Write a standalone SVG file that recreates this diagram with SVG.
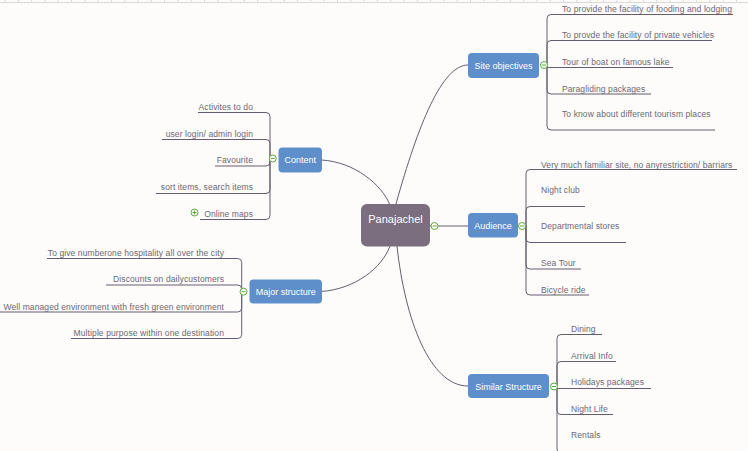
<svg xmlns="http://www.w3.org/2000/svg" width="748" height="451" viewBox="0 0 748 451">
<style>
.bg{fill:#fdfcfa}
.node{fill:#5f8fca}
.center{fill:#7b6e7f}
.nt{font-family:"Liberation Sans",Arial,sans-serif;font-size:9px;fill:#ffffff;text-anchor:middle}
.ct{font-family:"Liberation Sans",Arial,sans-serif;font-size:11px;fill:#ffffff;text-anchor:middle}
.lt{font-family:"Liberation Sans",Arial,sans-serif;font-size:8.5px;letter-spacing:0.1px;fill:#6c6779}
.end{text-anchor:end}
.ln{fill:none;stroke:#675d70;stroke-width:1}
.tog{fill:#ffffff;stroke:#5fa83c;stroke-width:1}
.togl{stroke:#5fa83c;stroke-width:1;fill:none}
</style>
<rect class="bg" x="0" y="0" width="748" height="451"/>
<g id="ruler">
<line x1="0" y1="2.5" x2="748" y2="2.5" stroke="#d9d9d9" stroke-width="1"/>
<line x1="4.5" y1="1.5" x2="748" y2="1.5" stroke="#d9d9d9" stroke-width="3" stroke-dasharray="1 12.3"/>
</g>
<g id="connectors">
<path class="ln" d="M396,204 C418,125 442,65 468,65"/>
<path class="ln" d="M321.5,160 C355,162 382,185 390,205"/>
<path class="ln" d="M321.5,291.5 C355,289 382,268 390,246"/>
<path class="ln" d="M397,246 C405,320 430,386 468,386"/>
<path class="ln" d="M430,226 H468"/>
<path class="ln" d="M547,65 V18.5 Q547,14.5 551,14.5 H733"/>
<path class="ln" d="M547,65 V44.5 Q547,40.5 551,40.5 H712"/>
<path class="ln" d="M544,67.5 H673"/>
<path class="ln" d="M547,65 V90 Q547,94 551,94 H651"/>
<path class="ln" d="M547,65 V126 Q547,130 551,130 H715"/>
<path class="ln" d="M526,226 V173.5 Q526,169.5 530,169.5 H737"/>
<path class="ln" d="M526,226 V210.5 Q526,206.5 530,206.5 H585"/>
<path class="ln" d="M526,226 V238.5 Q526,242.5 530,242.5 H626"/>
<path class="ln" d="M526,226 V265 Q526,269 530,269 H581"/>
<path class="ln" d="M526,226 V291 Q526,295 530,295 H589"/>
<path class="ln" d="M557,386.5 V338.5 Q557,334.5 561,334.5 H602"/>
<path class="ln" d="M557,386.5 V365.5 Q557,361.5 561,361.5 H616"/>
<path class="ln" d="M554,388.5 H651"/>
<path class="ln" d="M557,386.5 V410.5 Q557,414.5 561,414.5 H613"/>
<path class="ln" d="M557,386.5 V449 Q557,453 561,453 H620"/>
<path class="ln" d="M270,158.5 V116.5 Q270,112.5 266,112.5 H198"/>
<path class="ln" d="M270,158.5 V143.5 Q270,139.5 266,139.5 H162"/>
<path class="ln" d="M270,158.5 V162 Q270,166 266,166 H215"/>
<path class="ln" d="M270,158.5 V189.5 Q270,193.5 266,193.5 H156"/>
<path class="ln" d="M270,158.5 V215.5 Q270,219.5 266,219.5 H200"/>
<path class="ln" d="M241.7,291.7 V262.5 Q241.7,258.5 237.7,258.5 H47"/>
<path class="ln" d="M241.7,291.7 V289 Q241.7,285 237.7,285 H106"/>
<path class="ln" d="M241.7,291.7 V308 Q241.7,312 237.7,312 H0"/>
<path class="ln" d="M241.7,291.7 V334.5 Q241.7,338.5 237.7,338.5 H71"/>
</g>
<g id="center">
<rect class="center" x="361" y="204" width="69" height="42.5" rx="6"/>
<text class="ct" x="395.5" y="223">Panajachel</text>
<circle class="tog" cx="434.5" cy="226" r="3.5"/><line class="togl" x1="432.5" y1="226" x2="436.5" y2="226"/>
</g>
<g id="site-objectives">
<rect class="node" x="468" y="53" width="71" height="25" rx="4"/>
<text class="nt" x="503.5" y="68.5">Site objectives</text>
<circle class="tog" cx="544" cy="65" r="3.5"/><line class="togl" x1="542" y1="65" x2="546" y2="65"/>
<text class="lt" x="562" y="11.5">To provide the facility of fooding and lodging</text>
<text class="lt" x="562" y="38">To provde the facility of private vehicles</text>
<text class="lt" x="562" y="65">Tour of boat on famous lake</text>
<text class="lt" x="562" y="91.5">Paragliding packages</text>
<text class="lt" x="562" y="117">To know about different tourism places</text>
</g>
<g id="audience">
<rect class="node" x="468" y="213" width="50" height="24.5" rx="4"/>
<text class="nt" x="493" y="228.5">Audience</text>
<circle class="tog" cx="522" cy="226" r="3.5"/><line class="togl" x1="520" y1="226" x2="524" y2="226"/>
<text class="lt" x="541" y="167.5">Very much familiar site, no anyrestriction/ barriars</text>
<text class="lt" x="541" y="193">Night club</text>
<text class="lt" x="541" y="229">Departmental stores</text>
<text class="lt" x="541" y="265.5">Sea Tour</text>
<text class="lt" x="541" y="293">Bicycle ride</text>
</g>
<g id="similar-structure">
<rect class="node" x="468" y="374" width="81" height="24" rx="4"/>
<text class="nt" x="508.5" y="389.5">Similar Structure</text>
<circle class="tog" cx="554" cy="386.5" r="3.5"/><line class="togl" x1="552" y1="386.5" x2="556" y2="386.5"/>
<text class="lt" x="571" y="332">Dining</text>
<text class="lt" x="571" y="358.5">Arrival Info</text>
<text class="lt" x="571" y="385">Holidays packages</text>
<text class="lt" x="571" y="412">Night Life</text>
<text class="lt" x="571" y="438">Rentals</text>
</g>
<g id="content">
<rect class="node" x="278.5" y="147.5" width="43.5" height="25" rx="4"/>
<text class="nt" x="300.2" y="163">Content</text>
<circle class="tog" cx="272.7" cy="158.5" r="3.5"/><line class="togl" x1="270.7" y1="158.5" x2="274.7" y2="158.5"/>
<text class="lt end" x="253" y="110">Activites to do</text>
<text class="lt end" x="253" y="137">user login/ admin login</text>
<text class="lt end" x="253" y="163">Favourite</text>
<text class="lt end" x="253" y="189.5">sort items, search items</text>
<text class="lt end" x="253" y="217">Online maps</text>
<circle class="tog" cx="194.5" cy="212.5" r="3.5"/><line class="togl" x1="192.5" y1="212.5" x2="196.5" y2="212.5"/><line class="togl" x1="194.5" y1="210.5" x2="194.5" y2="214.5"/>
</g>
<g id="major-structure">
<rect class="node" x="249.5" y="279.5" width="72.5" height="24" rx="4"/>
<text class="nt" x="285.7" y="295">Major structure</text>
<circle class="tog" cx="243.5" cy="291.7" r="3.5"/><line class="togl" x1="241.5" y1="291.7" x2="245.5" y2="291.7"/>
<text class="lt end" x="224" y="256">To give numberone hospitality all over the city</text>
<text class="lt end" x="224" y="282">Discounts on dailycustomers</text>
<text class="lt end" x="224" y="309.5">Well managed environment with fresh green environment</text>
<text class="lt end" x="224" y="336">Multiple purpose within one destination</text>
</g>
</svg>
